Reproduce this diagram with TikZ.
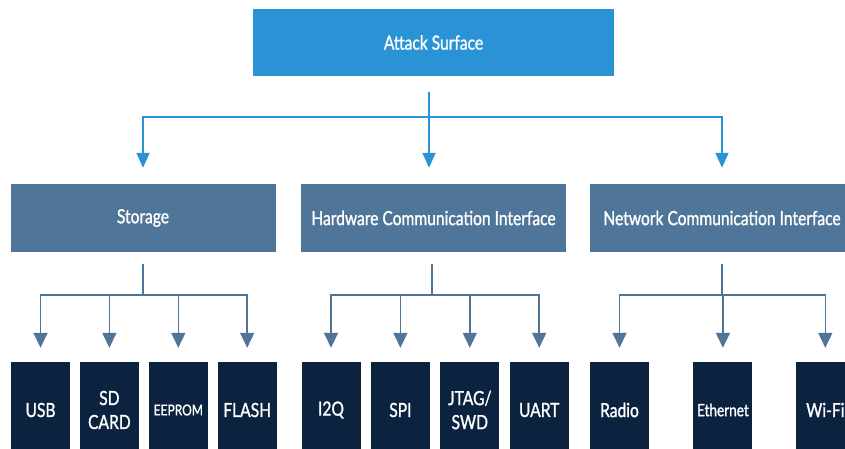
\documentclass[tikz,border=0pt]{standalone}
\usepackage{fontspec}
\setmainfont{Lato}[FakeStretch=0.8, FakeBold=1.2]
\usetikzlibrary{arrows.meta, positioning, calc}

\definecolor{surfblue}{HTML}{2A93D5}
\definecolor{groupblue}{HTML}{4F7599}
\definecolor{leafnavy}{HTML}{0C2340}

\begin{document}
\begin{tikzpicture}[
    x=1pt, y=-1pt,
    box/.style={inner sep=0pt, text=white, align=center,
                font=\fontsize{19.5}{24}\selectfont},
    topbox/.style={box, fill=surfblue, minimum width=361pt, minimum height=67pt},
    groupbox/.style={box, fill=groupblue, minimum width=265pt, minimum height=68pt},
    leaf/.style={box, fill=leafnavy, minimum width=59pt, minimum height=96pt},
    toplink/.style={draw=surfblue, line width=1.6pt,
                    -{Triangle[width=13pt,length=15pt]}},
    sublink/.style={draw=groupblue, line width=1.6pt,
                    -{Triangle[width=14pt,length=15pt]}}
  ]
  \clip (0,0) rectangle (845,448);
  \fill[white] (0,0) rectangle (845,448);

  % levels
  \node[topbox] (surface) at (433.5,42.5) {Attack Surface};
  \node[groupbox] (storage) at (143,218) {Storage};
  \node[groupbox] (hwci) at (433.5,218) {Hardware Communication Interface};
  \node[groupbox] (netci) at (722,218) {Network Communication Interface};

  % leaves
  \node[leaf] (usb) at (40.5,410) {USB};
  \node[leaf, right=9.5pt of usb] (sdcard) {SD\\CARD};
  \node[leaf, right=9.5pt of sdcard, font=\fontsize{15}{18}\selectfont] (eeprom) {EEPROM};
  \node[leaf, right=9.5pt of eeprom] (flash) {FLASH};

  \node[leaf] (i2q) at (331,410) {I2Q};
  \node[leaf, right=10pt of i2q] (spi) {SPI};
  \node[leaf, right=10pt of spi] (jtag) {JTAG/\\SWD};
  \node[leaf, right=10pt of jtag] (uart) {UART};

  \node[leaf] (radio) at (619.5,410) {Radio};
  \node[leaf, right=44pt of radio, font=\fontsize{17}{20}\selectfont] (ethernet) {Ethernet};
  \node[leaf, right=43pt of ethernet] (wifi) {Wi-Fi};

  % top connectors
  \draw[toplink] ([xshift=-4.5pt,yshift=-16pt]surface.south) -- ++(0,25) -| ([yshift=16pt]storage.north);
  \draw[toplink] ([xshift=-4.5pt,yshift=-16pt]surface.south) -- ([xshift=-4.5pt,yshift=16pt]hwci.north);
  \draw[toplink] ([xshift=-4.5pt,yshift=-16pt]surface.south) -- ++(0,25) -| ([yshift=16pt]netci.north);

  % group connectors
  \foreach \leaf in {usb,sdcard,eeprom,flash}
    \draw[sublink] ([yshift=-12pt]storage.south) -- ++(0,31) -| ([yshift=14pt]\leaf.north);
  \foreach \leaf in {i2q,spi,jtag,uart}
    \draw[sublink] ([xshift=-1.5pt,yshift=-12pt]hwci.south) -- ++(0,31) -| ([yshift=14pt]\leaf.north);
  \foreach \leaf in {radio,ethernet,wifi}
    \draw[sublink] ([yshift=-12pt]netci.south) -- ++(0,31) -| ([yshift=14pt]\leaf.north);
\end{tikzpicture}
\end{document}
